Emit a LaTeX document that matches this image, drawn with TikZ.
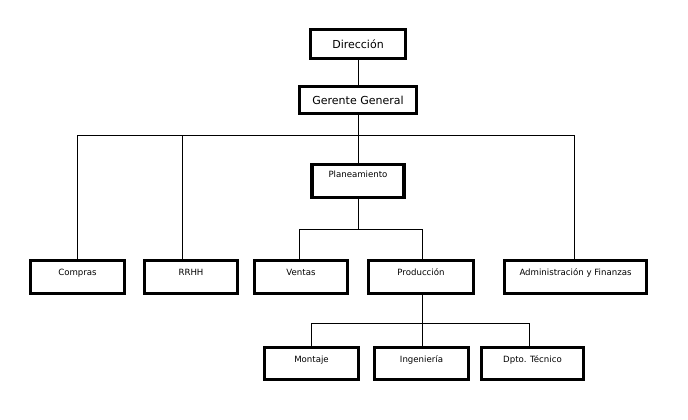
\documentclass[tikz,border=0pt]{standalone}
\usepackage{fontspec}
\setmainfont{DejaVu Sans}
\begin{document}
\begin{tikzpicture}[x=1pt,y=-1pt,
  box/.style={draw=black,line width=3.2pt,fill=white,inner sep=0pt,minimum height=0pt,align=center},
  big/.style={box,font=\fontsize{11}{13}\selectfont},
  small/.style={box,font=\fontsize{8.6}{10}\selectfont},
  conn/.style={draw=black,line width=0.9pt}]
\fill[white] (0,0) rectangle (688,420);
\useasboundingbox (0,0) rectangle (688,420);
% top
\node[big,minimum width=95pt,text height=19pt,text depth=10pt] (D) at (358,44) {Dirección};
\node[big,minimum width=117pt,text height=18pt,text depth=9pt] (G) at (358,100) {Gerente General};
% level 2
\node[small,minimum width=92pt,text height=13.5pt,text depth=19.5pt,anchor=north] (P) at (358,162.5) {Planeamiento};
\node[small,minimum width=94pt,text height=15.5pt,text depth=17.5pt,anchor=north] (C) at (77.5,258.5) {Compras};
\node[small,minimum width=93pt,text height=15.5pt,text depth=17.5pt,anchor=north] (R) at (191,258.5) {RRHH};
\node[small,minimum width=93pt,text height=15.5pt,text depth=17.5pt,anchor=north] (V) at (301,258.5) {Ventas};
\node[small,minimum width=105pt,text height=15.5pt,text depth=17.5pt,anchor=north] (Pr) at (421,258.5) {Producción};
\node[small,minimum width=142pt,text height=15.5pt,text depth=17.5pt,anchor=north] (A) at (575.5,258.5) {Administración y Finanzas};
% level 3
\node[small,minimum width=94pt,text height=15.5pt,text depth=16.5pt,anchor=north] (M) at (311.5,345.5) {Montaje};
\node[small,minimum width=94pt,text height=15.5pt,text depth=16.5pt,anchor=north] (I) at (421.5,345.5) {Ingeniería};
\node[small,minimum width=102pt,text height=15.5pt,text depth=16.5pt,anchor=north] (T) at (532.5,345.5) {Dpto. Técnico};
% buses
\coordinate (bus1) at (0,135);
\coordinate (bus2) at (0,229);
\coordinate (bus3) at (0,323);
% connectors
\draw[conn] (D.south) -- (G.north);
\draw[conn] (G.south) |- (bus1 -| C.north) -- (C.north);
\draw[conn] (G.south) |- ([xshift=-9pt]bus1 -| R.north) -- ([xshift=-9pt]R.north);
\draw[conn] (G.south) -- (P.north);
\draw[conn] (G.south) |- ([xshift=-1.5pt]bus1 -| A.north) -- ([xshift=-1.5pt]A.north);
\draw[conn] (P.south) |- ([xshift=-2pt]bus2 -| V.north) -- ([xshift=-2pt]V.north);
\draw[conn] (P.south) |- ([xshift=1pt]bus2 -| Pr.north) -- ([xshift=1pt]Pr.north);
\draw[conn] ([xshift=1pt]Pr.south) |- ([xshift=-0.5pt]bus3 -| M.north) -- ([xshift=-0.5pt]M.north);
\draw[conn] ([xshift=1pt]Pr.south) -- ([xshift=0.5pt]I.north);
\draw[conn] ([xshift=1pt]Pr.south) |- ([xshift=-3.5pt]bus3 -| T.north) -- ([xshift=-3.5pt]T.north);
\end{tikzpicture}
\end{document}
